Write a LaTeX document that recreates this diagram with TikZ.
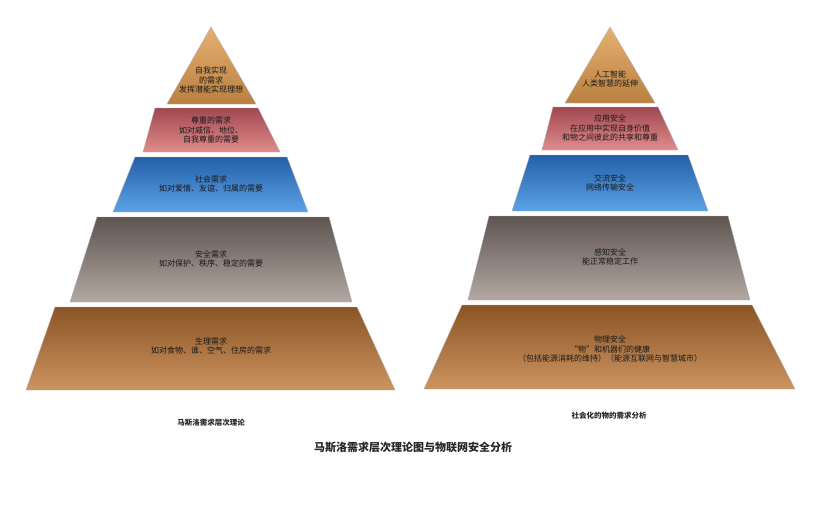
\documentclass[tikz,border=0pt]{standalone}
\usepackage{fontspec}
\setmainfont{Noto Sans CJK SC}
\definecolor{o1}{HTML}{E6B070}\definecolor{o2}{HTML}{B98040}
\definecolor{r1}{HTML}{A04850}\definecolor{r2}{HTML}{E08C8C}
\definecolor{b1}{HTML}{2460A8}\definecolor{b2}{HTML}{5CA2E6}
\definecolor{g1}{HTML}{5E5450}\definecolor{g2}{HTML}{B4A8A2}
\definecolor{n1}{HTML}{8A5424}\definecolor{n2}{HTML}{CC9460}
\begin{document}
\begin{tikzpicture}[x=1pt,y=-1pt,
  lbl/.style={align=center,font=\fontsize{8}{9.5}\selectfont,text=black!90},
  org/.style={top color=o1,bottom color=o2},
  rd/.style={top color=r1,bottom color=r2},
  bl/.style={top color=b1,bottom color=b2},
  gy/.style={top color=g1,bottom color=g2},
  bn/.style={top color=n1,bottom color=n2}]
\useasboundingbox (0,0) rectangle (829,523);
% left pyramid
\shade[org] (211,27) -- (256,104) -- (167,104) -- cycle;
\draw[gray!60] (211,27) -- (256,104) -- (167,104) -- cycle;
\shade[rd] (155,108) -- (258,108) -- (280,152) -- (143,152) -- cycle;
\draw[gray!60] (155,108) -- (258,108) -- (280,152) -- (143,152) -- cycle;
\shade[bl] (135,157) -- (287,157) -- (308,212) -- (113,212) -- cycle;
\draw[gray!60] (135,157) -- (287,157) -- (308,212) -- (113,212) -- cycle;
\shade[gy] (97,217) -- (329,217) -- (352,302) -- (70,302) -- cycle;
\draw[gray!60] (97,217) -- (329,217) -- (352,302) -- (70,302) -- cycle;
\shade[bn] (55,307) -- (357,307) -- (395,390) -- (26,390) -- cycle;
\draw[gray!60] (55,307) -- (357,307) -- (395,390) -- (26,390) -- cycle;
\node[lbl] (l1) at (211,80) {自我实现\\的需求\\发挥潜能实现理想};
\node[lbl] (l2) at (211,130) {尊重的需求\\如对威信、地位、\\自我尊重的需要};
\node[lbl] (l3) at (211,184) {社会需求\\如对爱情、友谊、归属的需要};
\node[lbl] (l4) at (211,259) {安全需求\\如对保护、秩序、稳定的需要};
\node[lbl] (l5) at (211,346) {生理需求\\如对食物、谁、空气、住房的需求};
% right pyramid
\shade[org] (610,27) -- (655,103) -- (565,103) -- cycle;
\draw[gray!60] (610,27) -- (655,103) -- (565,103) -- cycle;
\shade[rd] (553,107) -- (658,107) -- (678,150) -- (542,150) -- cycle;
\draw[gray!60] (553,107) -- (658,107) -- (678,150) -- (542,150) -- cycle;
\shade[bl] (530,155) -- (688,155) -- (708,211) -- (512,211) -- cycle;
\draw[gray!60] (530,155) -- (688,155) -- (708,211) -- (512,211) -- cycle;
\shade[gy] (489,216) -- (728,216) -- (750,300) -- (468,300) -- cycle;
\draw[gray!60] (489,216) -- (728,216) -- (750,300) -- (468,300) -- cycle;
\shade[bn] (462,305) -- (752,305) -- (795,389) -- (424,389) -- cycle;
\draw[gray!60] (462,305) -- (752,305) -- (795,389) -- (424,389) -- cycle;
\node[lbl] (r1) at (610,79) {人工智能\\人类智慧的延伸};
\node[lbl] (r2) at (610,128) {应用安全\\在应用中实现自身价值\\和物之间彼此的共享和尊重};
\node[lbl] (r3) at (610,183) {交流安全\\网络传输安全};
\node[lbl] (r4) at (610,257) {感知安全\\能正常稳定工作};
\node[lbl] (r5) at (610,349) {物理安全\\“物”和机器们的健康\\（包括能源消耗的维持）（能源互联网与智慧城市）};
% captions
\node[font=\fontsize{7.5}{9}\selectfont\bfseries,text=black!85] (c1) at (211,423) {马斯洛需求层次理论};
\node[font=\fontsize{7.5}{9}\selectfont\bfseries,text=black!85] (c2) at (609,416) {社会化的物的需求分析};
\node[font=\fontsize{11}{13}\selectfont\bfseries,text=black!85] (t) at (413,447) {马斯洛需求层次理论图与物联网安全分析};
\end{tikzpicture}
\end{document}
